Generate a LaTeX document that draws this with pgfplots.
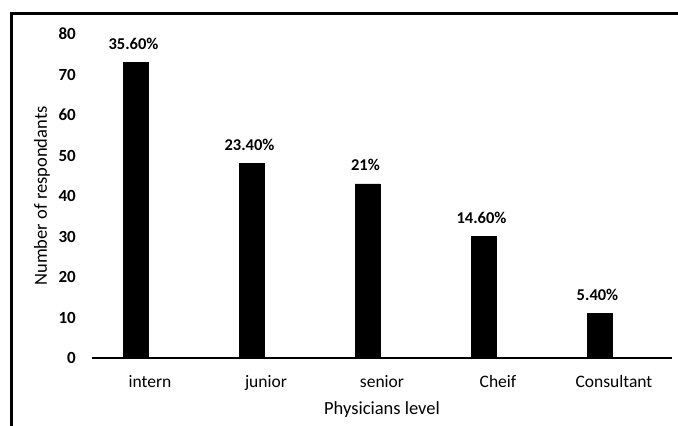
\documentclass[border=0pt]{standalone}
\usepackage{pgfplots}
\pgfplotsset{compat=1.18}
\usepackage{fontspec}
\setmainfont{Carlito}
\begin{document}
\begin{tikzpicture}
\useasboundingbox (0,0) rectangle (678bp,426bp);
\draw[line width=3bp] (9.5bp,412bp) -- (678bp,412bp);
\draw[line width=3bp] (11bp,413.5bp) -- (11bp,0bp);
\begin{axis}[
  at={(92bp,68bp)}, anchor=south west,
  scale only axis, width=580bp, height=324bp,
  xmin=-0.5, xmax=4.5, ymin=0, ymax=80,
  ytick={0,10,...,80},
  xtick={0,1,2,3,4},
  xticklabels={intern,junior,senior,Cheif,Consultant},
  axis lines*=left,
  y axis line style={draw=none},
  x axis line style={line width=2.5bp},
  major tick length=0pt,
  /pgf/number format/assume math mode=true,
  yticklabel style={font=\fontsize{17bp}{18bp}\selectfont\bfseries, anchor=east, inner sep=0pt, xshift=-16bp},
  xticklabel style={font=\fontsize{17.5bp}{19bp}\selectfont, anchor=base, inner sep=0pt, yshift=-30bp},
  xlabel={Physicians level},
  ylabel={Number of respondants},
  every axis x label/.style={at={(axis description cs:0.5,0)}, anchor=center, yshift=-52bp, font=\fontsize{18.5bp}{20bp}\selectfont},
  every axis y label/.style={at={(axis description cs:0,0.5)}, rotate=90, anchor=center, yshift=50bp, font=\fontsize{18.5bp}{20bp}\selectfont},
  ybar, bar width=25bp, bar shift=-14.5bp,
  nodes near coords,
  point meta=explicit symbolic,
  every node near coord/.append style={font=\fontsize{16.5bp}{18bp}\selectfont\bfseries, anchor=base, inner sep=0pt, yshift=13bp, xshift=-2bp},
  clip=false,
]
\addplot[fill=black, draw=black] coordinates {
  (0,73) [35.60\%]
  (1,48) [23.40\%]
  (2,43) [21\%]
  (3,30) [14.60\%]
  (4,11) [5.40\%]
};
\end{axis}
\end{tikzpicture}
\end{document}
